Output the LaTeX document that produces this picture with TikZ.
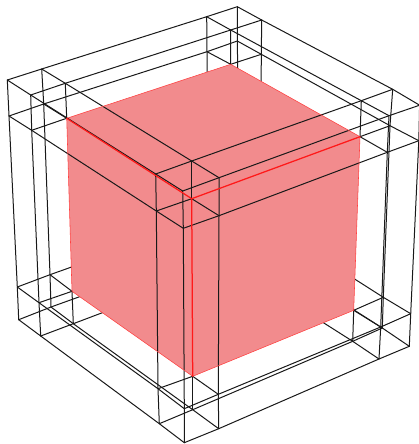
\documentclass[tikz,border=0pt]{standalone}
\tikzset{
  wire/.style={draw=black!90,line width=1pt,line join=round,line cap=round},
  redface/.style={fill=facered,draw=none},
  rededge/.style={draw=red!90!white,line width=1.25pt,line cap=round},
  redthin/.style={draw=red!75!white,line width=0.55pt}
}
\definecolor{facered}{RGB}{242,139,141}
\begin{document}
\begin{tikzpicture}[x=1pt,y=-1pt]
\useasboundingbox (0,0) rectangle (419,444);
\clip (0,0) rectangle (419,444);
% top-left corner
\coordinate (p000) at (7.3,80);    \coordinate (p001) at (9,116);
\coordinate (p010) at (41.7,69);   \coordinate (p011) at (43.7,104);
\coordinate (p110) at (65.3,83.3); \coordinate (p111) at (66.7,118.3);
\coordinate (p100) at (30.7,95);   \coordinate (p101) at (31.7,130.3);
% top-back corner
\coordinate (p020) at (206.7,16.7);\coordinate (p021) at (207,51.7);
\coordinate (p030) at (237.3,6.7); \coordinate (p031) at (237.3,41);
\coordinate (p130) at (261.7,20);  \coordinate (p131) at (261.3,54.3);
\coordinate (p120) at (230.7,30);  \coordinate (p121) at (230.7,64.3);
% top-front corner
\coordinate (p200) at (155.7,174); \coordinate (p201) at (156.3,211);
\coordinate (p210) at (191.7,161); \coordinate (p211) at (191.7,198.7);
\coordinate (p310) at (219,177.7); \coordinate (p311) at (219,215.7);
\coordinate (p300) at (182.7,191); \coordinate (p301) at (183.3,228.3);
% top-right corner
\coordinate (p220) at (361.3,100.7);\coordinate (p221) at (360,136.7);
\coordinate (p230) at (392.7,89.3); \coordinate (p231) at (390,125.7);
\coordinate (p330) at (419.6,105.2);\coordinate (p331) at (418.8,140.7);
\coordinate (p320) at (389,115.7);  \coordinate (p321) at (387.3,152.3);
% bottom-left corner
\coordinate (p002) at (17.3,287);  \coordinate (p003) at (18.7,319.7);
\coordinate (p012) at (50,274.7);  \coordinate (p013) at (51,307);
\coordinate (p112) at (72,291.3);  \coordinate (p113) at (73.3,323.7);
\coordinate (p102) at (39,302.7);  \coordinate (p103) at (40.7,336);
% bottom-back corner (behind the solid)
\coordinate (p022) at (209,218);   \coordinate (p023) at (209.5,250);
\coordinate (p032) at (239.7,205.5);\coordinate (p033) at (240,237);
\coordinate (p132) at (260.5,219); \coordinate (p133) at (260,250);
\coordinate (p122) at (231,232);   \coordinate (p123) at (231,264);
% bottom-front corner
\coordinate (p202) at (158,388.7);  \coordinate (p203) at (159.3,423.7);
\coordinate (p212) at (192.7,376.3);\coordinate (p213) at (192.7,409.7);
\coordinate (p312) at (218.3,394.3);\coordinate (p313) at (218.7,428.7);
\coordinate (p302) at (184.3,408.7);\coordinate (p303) at (184.3,442.7);
% bottom-right corner
\coordinate (p222) at (353.7,310.3);\coordinate (p223) at (352.7,341.3);
\coordinate (p232) at (383.3,297.3);\coordinate (p233) at (382.3,328);
\coordinate (p332) at (410.7,313.7);\coordinate (p333) at (409.3,346.3);
\coordinate (p322) at (380.7,327);  \coordinate (p323) at (379,359);
% lines behind the solid
\foreach \u in {2,3}\foreach \v in {2,3}{
  \draw[wire] (p0\u\v) -- (p1\u\v) -- (p2\u\v) -- (p3\u\v);
}
\foreach \u in {0,1}\foreach \v in {2,3}{
  \draw[wire] (p\u0\v) -- (p\u1\v) -- (p\u2\v) -- (p\u3\v);
  \draw[wire] (p\u\v0) -- (p\u\v1) -- (p\u\v2) -- (p\u\v3);
}
% solid
\path[redface] (p111) -- (p121) -- (p221) -- (p222) -- (p212) -- (p112) -- cycle;
% lines in front of the solid
\foreach \u/\v in {0/0,0/1,0/2,0/3,1/0,1/3,2/0,3/0,3/1}{
  \draw[wire] (p0\u\v) -- (p1\u\v) -- (p2\u\v) -- (p3\u\v);
}
\foreach \u/\v in {0/0,0/1,1/0,2/0,2/3,3/0,3/1,3/2,3/3}{
  \draw[wire] (p\u0\v) -- (p\u1\v) -- (p\u2\v) -- (p\u3\v);
}
\foreach \u/\v in {0/0,0/1,1/0,2/0,2/3,3/0,3/1,3/2,3/3}{
  \draw[wire] (p\u\v0) -- (p\u\v1) -- (p\u\v2) -- (p\u\v3);
}
% lines that run along the edges of the solid: only their end pieces are black
\foreach \u/\v in {1/1,2/1,1/2}{
  \draw[wire] (p0\u\v) -- (p1\u\v);
  \draw[wire] (p2\u\v) -- (p3\u\v);
}
\foreach \u/\v in {1/1,2/1,2/2}{
  \draw[wire] (p\u0\v) -- (p\u1\v);
  \draw[wire] (p\u2\v) -- (p\u3\v);
  \draw[wire] (p\u\v0) -- (p\u\v1);
  \draw[wire] (p\u\v2) -- (p\u\v3);
}
% edges of the solid
\draw[redthin] (p111) -- (p121) -- (p221) -- (p222) -- (p212) -- (p112) -- cycle;
\draw[rededge] (p111) -- (p211) -- (p221);
\draw[rededge] (p211) -- (p212);
\end{tikzpicture}
\end{document}
